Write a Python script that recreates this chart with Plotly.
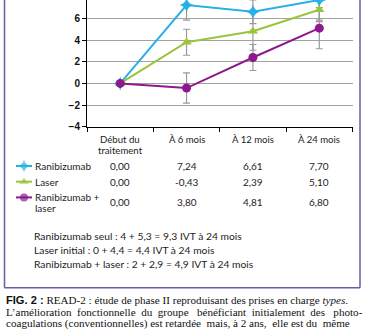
import plotly.graph_objects as go

# ---- data -------------------------------------------------------------
visits = [["Début du", "traitement"], ["À 6 mois"], ["À 12 mois"], ["À 24 mois"]]
row_labels = [["Ranibizumab"], ["Laser"], ["Ranibizumab +", "laser"]]

ranibizumab = [0.00, 7.24, 6.61, 7.70]
laser = [0.00, -0.43, 2.39, 5.10]
rbz_laser = [0.00, 3.80, 4.81, 6.80]

# error-bar half widths drawn at each visit
err_ranibizumab = [0, 1.4, 1.1, 2.0]
err_laser = [0, 1.4, 1.2, 1.9]
err_rbz_laser = [0, 1.2, 1.75, 0.95]

y_ticks = [-4, -2, 0, 2, 4, 6]

summary_lines = [
    "Ranibizumab seul : 4 + 5,3 = 9,3 IVT à 24 mois",
    "Laser initial : 0 + 4,4 = 4,4 IVT à 24 mois",
    "Ranibizumab + laser : 2 + 2,9 = 4,9 IVT à 24 mois",
]

caption_head = "<span style='font-family:Liberation Sans'><b>FIG. 2 :</b></span> "
caption_lines = [
    "READ-2 : étude de phase II reproduisant des prises en charge <i>types</i>.",
    "L’amélioration fonctionnelle du groupe bénéficiant initialement des photo-",
    "coagulations (conventionnelles) est retardée mais, à 2 ans, elle est du même",
]
# extra non-breaking spaces spread over the word gaps (justified setting)
caption_fill = [0, 9, 3]

# ---- styling ----------------------------------------------------------
W, H = 366, 336
BLUE = "#2bb0e6"
GREEN = "#9cc43a"
PURPLE = "#8c1a8c"
GRID = "#a3a3a3"
BOX = "#6a5aa8"
TXT = "#1e1c1d"
SANS = "Lato"
SERIF = "Liberation Serif"


def px(x):
    return x / W


def py(y):
    return 1 - y / H


def justify(text, extra):
    words = text.split(" ")
    gaps = len(words) - 1
    if extra <= 0 or gaps <= 0:
        return text
    out = words[0]
    for g, w in enumerate(words[1:]):
        n = extra * (g + 1) // gaps - extra * g // gaps
        out += " " + "\u00a0" * n + w
    return out


x_idx = list(range(len(visits)))

# printed line styling: colour, marker symbol, marker size
plotted = [
    (ranibizumab, err_ranibizumab, BLUE, "star-diamond", 10),
    (rbz_laser, err_rbz_laser, GREEN, "triangle-up", 9),
    (laser, err_laser, PURPLE, "circle", 9),
]

fig = go.Figure()

# error bars first so the lines sit on top
for vals, errs, col, sym, size in plotted:
    fig.add_trace(go.Scatter(
        x=x_idx[1:], y=vals[1:], mode="markers",
        marker=dict(size=1, opacity=0),
        error_y=dict(type="data", array=errs[1:], color="#9a9a9a",
                     thickness=1.2, width=3.5),
        showlegend=False, hoverinfo="skip",
    ))

for vals, errs, col, sym, size in plotted:
    fig.add_trace(go.Scatter(
        x=x_idx, y=vals, mode="lines+markers",
        line=dict(color=col, width=2),
        marker=dict(color=col, symbol=sym, size=size, line=dict(width=0)),
        showlegend=False,
    ))

# legend swatches of the table rows, drawn on a pixel-space overlay axis
swatch_y = [169, 185, 201]
swatch_style = [(BLUE, "star-diamond", 9), (GREEN, "triangle-up", 8), (PURPLE, "circle", 8)]
for yy, (col, sym, size) in zip(swatch_y, swatch_style):
    fig.add_trace(go.Scatter(
        x=[16, 24, 32], y=[yy, yy, yy], xaxis="x2", yaxis="y2",
        mode="lines+markers",
        line=dict(color=col, width=2),
        marker=dict(color=col, symbol=sym, size=[0, size, 0], line=dict(width=0)),
        showlegend=False, hoverinfo="skip",
    ))

annotations = []

# table header
for i, lines in enumerate(visits):
    for j, lab in enumerate(lines):
        annotations.append(dict(
            x=i, xref="x", y=py(142 + 11 * j), yref="paper", text=lab,
            showarrow=False, xanchor="center", yanchor="middle",
            font=dict(family=SANS, size=9.6, color=TXT),
        ))

# table rows
row_y = [169, 185, 206]
label_y = [169, 185, 201]
for lines, vals, yy, ly in zip(row_labels, [ranibizumab, laser, rbz_laser], row_y, label_y):
    for j, lab in enumerate(lines):
        annotations.append(dict(
            x=px(33), xref="paper", y=py(ly + 11 * j), yref="paper", text=lab,
            showarrow=False, xanchor="left", yanchor="middle",
            font=dict(family=SANS, size=10, color=TXT),
        ))
    for i, v in enumerate(vals):
        annotations.append(dict(
            x=i, xref="x", y=py(yy), yref="paper",
            text=f"{v:.2f}".replace(".", ","), showarrow=False,
            xanchor="center", yanchor="middle",
            font=dict(family=SANS, size=10, color=TXT),
        ))

# summary lines
for k, line in enumerate(summary_lines):
    annotations.append(dict(
        x=px(32), xref="paper", y=py(240 + 14.5 * k), yref="paper", text=line,
        showarrow=False, xanchor="left", yanchor="middle",
        font=dict(family=SANS, size=10.3, color=TXT),
    ))

# caption
for k, (line, fill) in enumerate(zip(caption_lines, caption_fill)):
    text = justify(line, fill)
    if k == 0:
        text = caption_head + text
    annotations.append(dict(
        x=px(4), xref="paper", y=py(305.5 + 12 * k), yref="paper", text=text,
        showarrow=False, xanchor="left", yanchor="middle",
        font=dict(family=SERIF, size=11.1, color="#111111"),
    ))

# frame around the chart panel
box_bottom = 293
shapes = [
    dict(type="line", xref="paper", yref="paper", x0=px(4.5), x1=px(4.5),
         y0=py(box_bottom), y1=1, line=dict(color=BOX, width=1.5)),
    dict(type="line", xref="paper", yref="paper", x0=px(360), x1=px(360),
         y0=py(box_bottom), y1=1, line=dict(color=BOX, width=1.5)),
    dict(type="line", xref="paper", yref="paper", x0=px(4.5), x1=px(360),
         y0=py(box_bottom), y1=py(box_bottom), line=dict(color=BOX, width=1.5)),
]

fig.update_layout(
    width=W, height=H,
    margin=dict(l=0, r=0, t=0, b=0),
    paper_bgcolor="white", plot_bgcolor="rgba(0,0,0,0)",
    annotations=annotations, shapes=shapes,
    xaxis=dict(
        domain=[px(87), px(352.5)], range=[-0.5, 3.5],
        tickvals=[-0.5, 0.5, 1.5, 2.5, 3.5], showticklabels=False,
        ticks="outside", ticklen=4, tickcolor="black", tickwidth=1,
        showline=True, linecolor="black", linewidth=1,
        showgrid=False, zeroline=False, fixedrange=True,
    ),
    yaxis=dict(
        domain=[py(129), 1], range=[-4, 7.7],
        tickvals=y_ticks, ticks="outside", ticklen=4, tickcolor="black",
        tickfont=dict(family="Liberation Sans", size=10, color="#111111", weight="bold"),
        showline=True, linecolor="black", linewidth=1,
        showgrid=True, gridcolor=GRID, gridwidth=1.2,
        zeroline=True, zerolinecolor=GRID, zerolinewidth=1.2,
        fixedrange=True,
    ),
    xaxis2=dict(domain=[0, 1], range=[0, W], visible=False, anchor="y2",
                fixedrange=True),
    yaxis2=dict(domain=[0, 1], range=[H, 0], visible=False, anchor="x2",
                fixedrange=True),
    showlegend=False,
)

fig.write_html("out.html")
